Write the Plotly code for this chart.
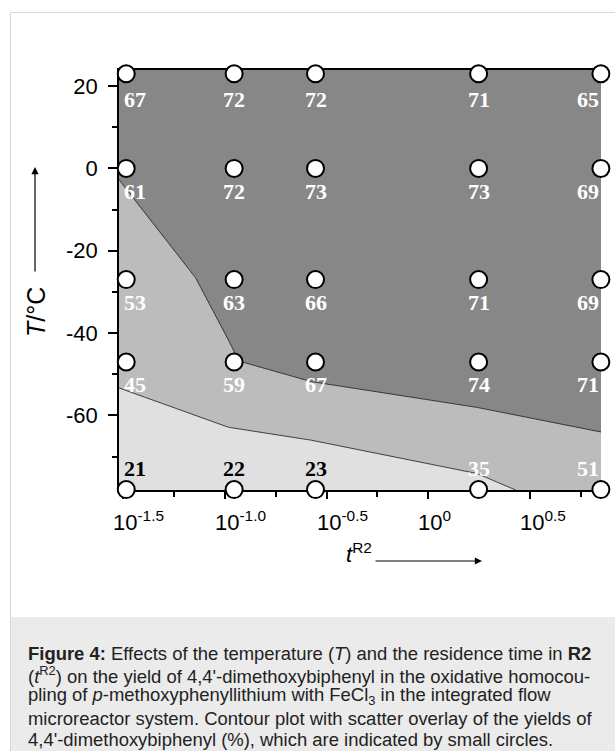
import numpy as np
import plotly.graph_objects as go

# ---------------- data ----------------
t_res = [0.0327, 0.111, 0.279, 1.77, 7.07]         # residence time t^R2 (s)
temps = [23, 0, -27, -47, -78]                      # temperature T (°C)
yields = [                                          # rows follow temps, cols follow t_res
    [67, 72, 72, 71, 65],
    [61, 72, 73, 73, 69],
    [53, 63, 66, 71, 69],
    [45, 59, 67, 74, 71],
    [21, 22, 23, 35, 51],
]
contour_levels = [40, 60]
x_tick_vals = [-1.5, -1.0, -0.5, 0.0, 0.5]
x_tick_text = ["10<sup>-1.5</sup>", "10<sup>-1.0</sup>", "10<sup>-0.5</sup>", "10<sup>0</sup>", "10<sup>0.5</sup>"]
x_minor_vals = [-1.25, -0.75, -0.25, 0.25, 0.75]
y_tick_vals = [-60, -40, -20, 0, 20]
y_tick_text = ["-60", "-40", "-20", "0", "20"]
y_minor_vals = [-70, -50, -30, -10, 10]
caption_lines = [
    "<b>Figure 4:</b> Effects of the temperature (<i>T</i>) and the residence time in <b>R2</b>",
    "(<i>t</i><sup>R2</sup>) on the yield of 4,4'-dimethoxybiphenyl in the oxidative homocou-",
    "pling of <i>p</i>-methoxyphenyllithium with FeCl<sub>3</sub> in the integrated flow",
    "microreactor system. Contour plot with scatter overlay of the yields of",
    "4,4'-dimethoxybiphenyl (%), which are indicated by small circles.",
]

# ---------------- geometry ----------------
FW, FH = 615, 751
L, R, T, B = 119, 14, 70, 261
PW, PH = FW - L - R, FH - T - B


def px_x(px):
    return (px - L) / PW


def px_y(py):
    return (FH - B - py) / PH


logt = np.log10(np.array(t_res))
Z = np.array(yields, dtype=float)

fig = go.Figure()

# contour (own frame spanning the data box)
fig.add_trace(go.Contour(
    x=logt, y=temps, z=Z,
    xaxis="x", yaxis="y",
    contours=dict(start=contour_levels[0], end=contour_levels[-1],
                  size=contour_levels[1] - contour_levels[0],
                  coloring="fill", showlines=True),
    colorscale=[[0, "#e0e0e0"], [0.5, "#bcbcbc"], [1, "#878787"]],
    line=dict(color="#1a1a1a", width=0.8, smoothing=0),
    showscale=False, hoverinfo="skip",
))

# scatter circles
xs, ys = np.meshgrid(logt, temps)
fig.add_trace(go.Scatter(
    x=xs.ravel(), y=ys.ravel(), mode="markers",
    xaxis="x2", yaxis="y2",
    marker=dict(size=17, color="white", line=dict(color="black", width=2)),
    cliponaxis=False, showlegend=False, hoverinfo="skip",
))

annotations = []
nr, nc = Z.shape
for i in range(nr):
    for j in range(nc):
        v = yields[i][j]
        if j == 0:
            xa, xs_ = "left", -4
        elif j == nc - 1:
            xa, xs_ = "right", 0
        else:
            xa, xs_ = "center", 0
        if i == nr - 1:
            ysh = 21
        elif i == 0:
            ysh = -26
        else:
            ysh = -23
        annotations.append(dict(
            x=logt[j], y=temps[i], xref="x2", yref="y2",
            text="<b>%d</b>" % v, showarrow=False, xanchor=xa, yanchor="middle",
            xshift=xs_, yshift=ysh,
            font=dict(family="Liberation Serif", size=22,
                      color="black" if v < 30 else "white"),
        ))

# x tick labels ("10" centred on tick)
for v, txt in zip(x_tick_vals, x_tick_text):
    annotations.append(dict(
        x=v, y=px_y(521), xref="x2", yref="paper", text=txt,
        showarrow=False, xanchor="left", yanchor="middle", xshift=-12,
        font=dict(family="Liberation Sans", size=22, color="black"),
    ))

# axis titles with arrows
annotations.append(dict(
    x=px_x(374), y=px_y(553), xref="paper", yref="paper",
    text="<i>t</i><sup>R2</sup>", showarrow=False, xanchor="right", yanchor="middle",
    font=dict(family="Liberation Sans", size=22, color="black"),
))
annotations.append(dict(
    x=px_x(482), y=px_y(561), xref="paper", yref="paper", text="",
    showarrow=True, ax=-108, ay=0, arrowhead=2, arrowsize=1.2, arrowwidth=1.2,
    arrowcolor="black",
))
annotations.append(dict(
    x=px_x(36), y=px_y(312), xref="paper", yref="paper",
    text="<i>T</i>/°C", showarrow=False, textangle=-90,
    xanchor="center", yanchor="middle",
    font=dict(family="Liberation Sans", size=25, color="black"),
))
annotations.append(dict(
    x=px_x(35), y=px_y(167), xref="paper", yref="paper", text="",
    showarrow=True, ax=0, ay=106, arrowhead=2, arrowsize=1.2, arrowwidth=1.2,
    arrowcolor="black",
))

# caption
for k, line in enumerate(caption_lines):
    annotations.append(dict(
        x=px_x(26), y=px_y(653 + 21.7 * k), xref="paper", yref="paper",
        text=line, showarrow=False, xanchor="left", yanchor="middle",
        font=dict(family="Liberation Sans", size=18.45, color="#222222"),
    ))

shapes = [
    dict(type="rect", xref="paper", yref="paper",
         x0=px_x(10.5), x1=px_x(640), y0=px_y(12.5), y1=px_y(800),
         line=dict(color="#d8d8d8", width=1), fillcolor="rgba(0,0,0,0)", layer="below"),
    dict(type="rect", xref="paper", yref="paper",
         x0=px_x(11), x1=px_x(640), y0=px_y(617), y1=px_y(800),
         line=dict(width=0), fillcolor="#ebebeb", layer="below"),
]

axis_font = dict(family="Liberation Sans", size=22, color="black")

fig.update_layout(
    width=FW, height=FH,
    margin=dict(l=L, r=R, t=T, b=B, pad=0),
    paper_bgcolor="white", plot_bgcolor="white",
    showlegend=False,
    xaxis=dict(range=[logt[0], logt[-1]], visible=False, fixedrange=True),
    yaxis=dict(range=[min(temps), max(temps)], visible=False, fixedrange=True),
    xaxis2=dict(
        overlaying="x", anchor="y2", side="bottom",
        range=[-1.521, 0.85], showgrid=False, zeroline=False,
        showline=True, mirror=True, linecolor="black", linewidth=1.5,
        ticks="outside", ticklen=7, tickwidth=1.5, tickcolor="black",
        tickvals=x_tick_vals, showticklabels=False,
        minor=dict(tickvals=x_minor_vals, ticks="outside", ticklen=5,
                   tickwidth=1.5, tickcolor="black"),
        layer="below traces",
    ),
    yaxis2=dict(
        overlaying="y", anchor="x2", side="left",
        range=[-78.1, 23.9], showgrid=False, zeroline=False,
        showline=True, linecolor="black", linewidth=1.5,
        ticks="outside", ticklen=9, tickwidth=1.5, tickcolor="black",
        tickvals=y_tick_vals, ticktext=y_tick_text, tickfont=axis_font,
        ticklabelstandoff=6,
        minor=dict(tickvals=y_minor_vals, ticks="outside", ticklen=5,
                   tickwidth=1.5, tickcolor="black"),
        layer="below traces",
    ),
    annotations=annotations,
    shapes=shapes,
)

fig.write_html("out.html", config={"displayModeBar": False},
               post_script="document.body.style.margin='0px';document.body.style.overflow='hidden';")
